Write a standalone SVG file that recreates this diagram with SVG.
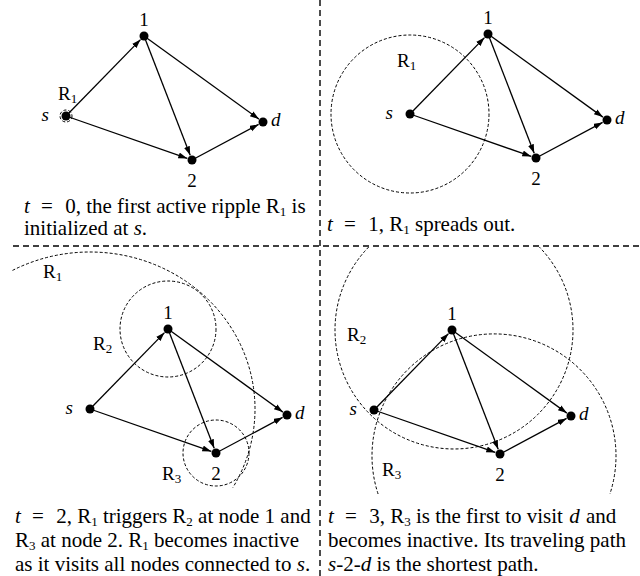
<svg xmlns="http://www.w3.org/2000/svg" width="640" height="576" viewBox="0 0 640 576">
<style>
.e{stroke:#000;stroke-width:1.3;fill:none;marker-end:url(#ah)}
.n{fill:#000}
.rp{stroke:#000;stroke-width:1;fill:none;stroke-dasharray:3 2}
.dv{stroke:#000;stroke-width:1.4;fill:none;stroke-dasharray:6 4}
.lb{font-family:"Liberation Serif","Times New Roman",serif;font-size:19px;fill:#000}
.it{font-style:italic}
.cap{font-family:"Liberation Serif","Times New Roman",serif;font-size:21px;fill:#000}
.sub{font-size:13px}
</style>
<defs>
<marker id="ah" markerUnits="userSpaceOnUse" markerWidth="10" markerHeight="8" refX="9" refY="3" orient="auto">
<path d="M0,0 L9,3 L0,6 z" fill="#000"/>
</marker>
<g id="graph">
<g id="edges">
<line class="e" x1="0" y1="0" x2="74.5" y2="-76.4"/>
<line class="e" x1="0" y1="0" x2="121.3" y2="42.4"/>
<line class="e" x1="78" y1="-80" x2="124.2" y2="39.3"/>
<line class="e" x1="78" y1="-80" x2="192.9" y2="3.1"/>
<line class="e" x1="126" y1="44" x2="192.6" y2="8.4"/>
</g>
<g id="nodes">
<g><circle class="n" cx="0" cy="0" r="4.5"/><text class="lb it" x="-17" y="5" text-anchor="end">s</text></g>
<g><circle class="n" cx="78" cy="-80" r="4.5"/><text class="lb" x="78" y="-90" text-anchor="middle">1</text></g>
<g><circle class="n" cx="126" cy="44" r="4.5"/><text class="lb" x="126" y="71" text-anchor="middle">2</text></g>
<g><circle class="n" cx="197" cy="6" r="4.5"/><text class="lb it" x="205" y="10">d</text></g>
</g>
</g>
</defs>

<g id="dividers">
<line class="dv" x1="320" y1="0" x2="320" y2="576"/>
<line class="dv" x1="13" y1="246" x2="640" y2="246"/>
</g>

<g id="panel1" transform="translate(66,116)">
<use href="#graph"/>
<circle class="rp" cx="0" cy="0" r="6"/>
<text class="lb" x="-8" y="-16">R<tspan class="sub" dy="3">1</tspan></text>
</g>
<text class="cap" x="24" y="213"><tspan class="it">t</tspan><tspan dx="6"> =</tspan><tspan dx="7"> 0, the first active ripple R</tspan><tspan class="sub" dy="3">1</tspan><tspan dy="-3"> is</tspan></text>
<text class="cap" x="24" y="235">initialized at <tspan class="it">s</tspan>.</text>

<g id="panel2" transform="translate(410,114)">
<use href="#graph"/>
<circle class="rp" cx="0" cy="0" r="79"/>
<text class="lb" x="-13" y="-47">R<tspan class="sub" dy="3">1</tspan></text>
</g>
<text class="cap" x="327" y="231"><tspan class="it">t</tspan><tspan dx="6"> =</tspan><tspan dx="7"> 1, R</tspan><tspan class="sub" dy="3">1</tspan><tspan dy="-3"> spreads out.</tspan></text>

<g id="panel3" transform="translate(90,409)">
<use href="#graph"/>
<path class="rp" d="M -77.5 -138.6 A 165 157 0 0 1 142.9 78.5"/>
<circle class="rp" cx="78" cy="-80" r="48"/>
<circle class="rp" cx="126" cy="44" r="33"/>
<text class="lb" x="-47" y="-131">R<tspan class="sub" dy="3">1</tspan></text>
<text class="lb" x="3" y="-59">R<tspan class="sub" dy="3">2</tspan></text>
<text class="lb" x="72" y="71">R<tspan class="sub" dy="3">3</tspan></text>
</g>
<text class="cap" x="15" y="523"><tspan class="it">t</tspan><tspan dx="6"> =</tspan><tspan dx="7"> 2, R</tspan><tspan class="sub" dy="3">1</tspan><tspan dy="-3"> triggers R</tspan><tspan class="sub" dy="3">2</tspan><tspan dy="-3"> at node 1 and</tspan></text>
<text class="cap" x="15" y="547">R<tspan class="sub" dy="3">3</tspan><tspan dy="-3"> at node 2. R</tspan><tspan class="sub" dy="3">1</tspan><tspan dy="-3"> becomes inactive</tspan></text>
<text class="cap" x="15" y="571">as it visits all nodes connected to <tspan class="it">s</tspan>.</text>

<g id="panel4" transform="translate(374,410)">
<use href="#graph"/>
<path class="rp" d="M -5.3 -163 A 119 119 0 1 0 165.3 -163"/>
<path class="rp" d="M 4.1 84 A 122 122 0 1 1 235.9 84"/>
<text class="lb" x="-27" y="-69">R<tspan class="sub" dy="3">2</tspan></text>
<text class="lb" x="8" y="66">R<tspan class="sub" dy="3">3</tspan></text>
</g>
<text class="cap" x="328" y="523"><tspan class="it">t</tspan><tspan dx="6"> =</tspan><tspan dx="7"> 3, R</tspan><tspan class="sub" dy="3">3</tspan><tspan dy="-3"> is the first to visit </tspan><tspan class="it" dx="1">d</tspan><tspan dx="1"> and</tspan></text>
<text class="cap" x="328" y="547">becomes inactive. Its traveling path</text>
<text class="cap" x="328" y="571"><tspan class="it">s</tspan>-2-<tspan class="it">d</tspan> is the shortest path.</text>
</svg>
